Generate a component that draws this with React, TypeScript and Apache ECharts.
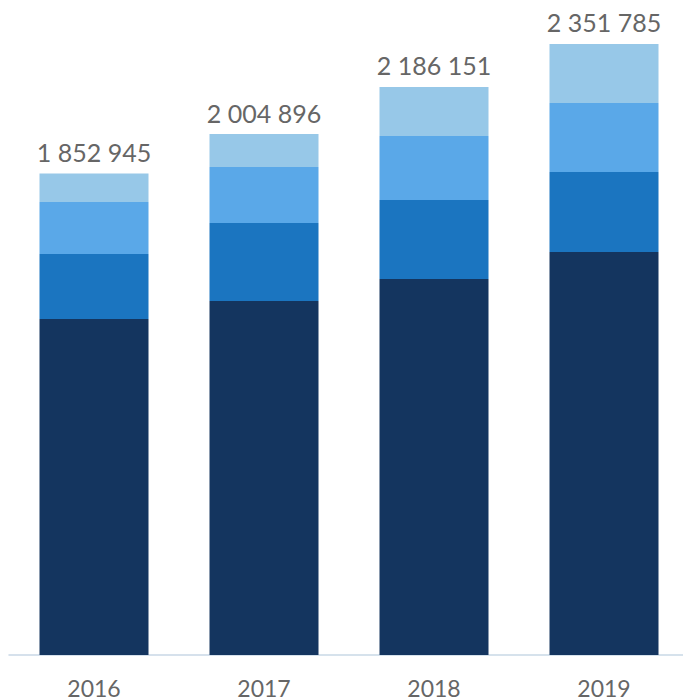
import React, { useEffect, useRef } from "react";
import * as echarts from "echarts";

const years = ["2016", "2017", "2018", "2019"];
const seriesA = [1293300, 1362600, 1447300, 1551200];
const seriesB = [250200, 300200, 304100, 308000];
const seriesC = [200150, 215600, 246300, 265600];
const seriesD = [109295, 126496, 188451, 226985];
const totals = [1852945, 2004896, 2186151, 2351785];

const colors = ["#14355f", "#1b75c0", "#5aa8e8", "#97c8e8"];

const fmt = (v: number) => String(v).replace(/\B(?=(\d{3})+(?!\d))/g, " ");

export default function App() {
  const ref = useRef<HTMLDivElement>(null);
  useEffect(() => {
    if (!ref.current) return;
    const chart = echarts.init(ref.current, undefined, { renderer: "svg" });
    const font = "Lato, 'Open Sans', sans-serif";
    const data = [seriesA, seriesB, seriesC, seriesD];
    chart.setOption({
      animation: false,
      grid: { left: 9, width: 680, top: 0, bottom: 45, containLabel: false },
      xAxis: {
        type: "category",
        data: years,
        axisLine: { lineStyle: { color: "#c9d8e6", width: 1.5 } },
        axisTick: { show: false },
        axisLabel: { color: "#666666", fontSize: 23, fontFamily: font, margin: 21 },
      },
      yAxis: { type: "value", min: 0, max: 2521000, show: false, splitLine: { show: false } },
      series: data.map((d, i) => ({
        type: "bar",
        stack: "total",
        data: d,
        barWidth: 109,
        itemStyle: { color: colors[i] },
        label:
          i === 3
            ? {
                show: true,
                position: "top",
                distance: 9,
                color: "#666666",
                fontSize: 25,
                fontFamily: font,
                formatter: (p: any) => fmt(totals[p.dataIndex]),
              }
            : { show: false },
      })),
    });
    return () => chart.dispose();
  }, []);
  return (
    <div style={{ position: "absolute", left: 0, top: 0, width: 683, height: 700, overflow: "hidden" }}>
      <div ref={ref} style={{ width: 700, height: 700 }} />
    </div>
  );
}
